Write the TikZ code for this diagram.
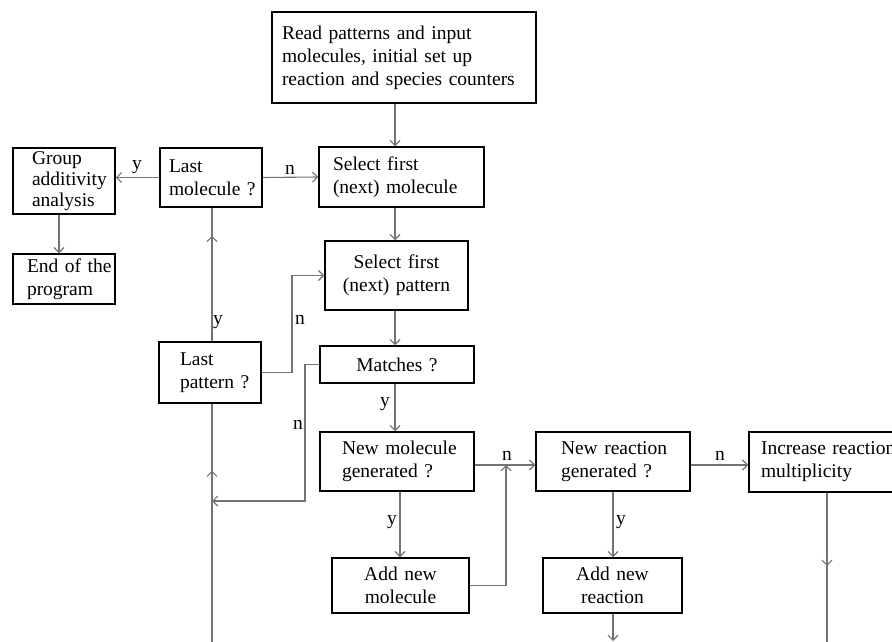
\documentclass[tikz,border=0pt]{standalone}
\usepackage{fontspec}
\setmainfont{Liberation Serif}
\usetikzlibrary{arrows.meta,decorations.markings}
\begin{document}
\begin{tikzpicture}[x=1pt,y=-1pt,
  font=\fontsize{19.5}{23}\selectfont,
  box/.style={draw=black, line width=1.5pt, inner ysep=0pt, inner xsep=0pt},
  lbox/.style n args={3}{box, text width=#1, minimum height=#2, align=left,
     execute at begin node={\leftskip=#3\relax}},
  cbox/.style n args={2}{box, text width=#1, minimum height=#2, align=center},
  conn/.style={draw=black!55, line width=1.1pt},
  arr/.style={conn, -{Straight Barb[length=5pt,width=10pt]}},
  midarr/.style={conn, postaction={decorate},
     decoration={markings, mark=at position #1 with {\arrow{Straight Barb[length=5pt,width=10pt]}}}},
  lbl/.style={inner sep=0pt}
]
\useasboundingbox (0,0) rectangle (892,642);
\clip (0,0) rectangle (892,642);
\fill[white] (0,0) rectangle (892,642);

% boxes
\node[lbox={264pt}{91pt}{10pt}] (read) at (404,57.5) {Read patterns and input\\molecules, initial set up\\reaction and species counters};
\node[lbox={165pt}{60pt}{14pt}] (selmol) at (401.5,177) {Select first\\(next) molecule};
\node[lbox={102pt}{59pt}{9pt}] (lastmol) at (211,177.5) {Last\\molecule~?};
\node[lbox={102pt}{66pt}{19pt}, font=\fontsize{19.5}{21}\selectfont] (group) at (64,181) {Group\\additivity\\analysis};
\node[lbox={102pt}{50pt}{14pt}] (endprog) at (64,279) {End of the\\program};
\node[cbox={143pt}{69pt}] (selpat) at (396.5,275.5) {Select first\\(next) pattern};
\node[cbox={154pt}{37pt}] (match) at (397,364.5) {Matches ?};
\node[lbox={102pt}{61pt}{21pt}] (lastpat) at (210,372.5) {Last\\pattern~?};
\node[lbox={154pt}{59pt}{22pt}] (newmol) at (397,461.5) {New molecule\\generated ?};
\node[cbox={137pt}{55pt}] (addmol) at (400.5,585.5) {Add new\\molecule};
\node[lbox={154pt}{59pt}{25pt}] (newreac) at (613,461.5) {New reaction\\generated ?};
\node[cbox={139pt}{55pt}] (addreac) at (612.5,585.5) {Add new\\reaction};
\node[lbox={160pt}{60pt}{12pt}] (incr) at (829,462) {Increase reaction\\multiplicity};

% helper coordinates
\coordinate (cA) at (395,0);
\coordinate (cG) at (59,0);
\coordinate (cL) at (212,0);
\coordinate (bL) at (212,645);
\coordinate (jM) at (305,501);
\coordinate (jP) at (292,0);
\coordinate (rN) at (0,465);
\coordinate (jA) at (506,465);
\coordinate (cM) at (400,0);
\coordinate (cR) at (613,0);
\coordinate (bR) at (613,641);
\coordinate (cI) at (827,0);
\coordinate (bI) at (827,645);

% connectors
\draw[arr] (read.south -| cA) -- (selmol.north -| cA);
\draw[arr] (selmol.south -| cA) -- (selpat.north -| cA);
\draw[arr] (selpat.south -| cA) -- (match.north -| cA);
\draw[arr] (match.south -| cA) -- (newmol.north -| cA);
\draw[arr] (lastmol.east) -- (selmol.west);
\draw[arr] (lastmol.west) -- (lastmol.west -| group.east);
\draw[arr] (group.south -| cG) -- (endprog.north -| cG);
\draw[midarr=0.79] (lastpat.north -| cL) -- (lastmol.south -| cL);
\draw[midarr=0.723] (bL) -- (lastpat.south -| cL);
\draw[arr] (match.west) -| (jM) -- (jM -| cL);
\draw[arr] (lastpat.east) -- (lastpat.east -| jP) |- (selpat.west);
\draw[arr] (newmol.east |- rN) -- (newreac.west |- rN);
\draw[arr] (addmol.east) -| (jA);
\draw[arr] (newmol.south -| cM) -- (addmol.north -| cM);
\draw[arr] (newreac.east |- rN) -- (incr.west |- rN);
\draw[arr] (newreac.south -| cR) -- (addreac.north -| cR);
\draw[arr] (addreac.south -| cR) -- (bR);
\draw[midarr=0.48] (incr.south -| cI) -- (bI);

% labels
\node[lbl] (l1) at (290,170) {n};
\node[lbl] (l2) at (137,167) {y};
\node[lbl] (l3) at (218,322) {y};
\node[lbl] (l4) at (300,320) {n};
\node[lbl] (l5) at (385,404) {y};
\node[lbl] (l6) at (298,425) {n};
\node[lbl] (l7) at (507,456) {n};
\node[lbl] (l8) at (392,522) {y};
\node[lbl] (l9) at (720,456) {n};
\node[lbl] (l10) at (621,522) {y};
\end{tikzpicture}
\end{document}
